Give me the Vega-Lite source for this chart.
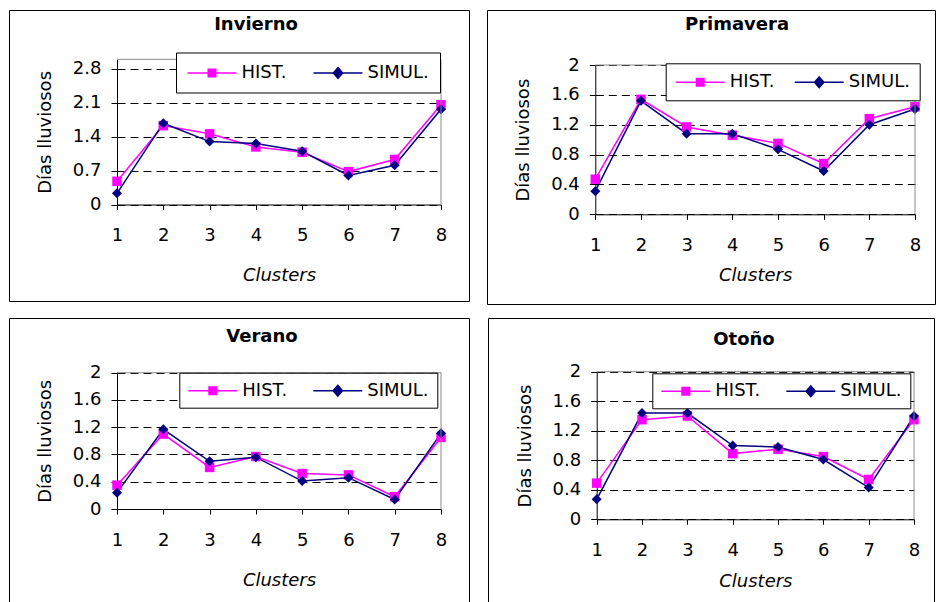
{
  "$schema": "https://vega.github.io/schema/vega-lite/v6.json",
  "padding": {"left": 8, "top": 9, "right": 0, "bottom": 0},
  "background": "white",
  "datasets": {
    "inv": [
      {"c": 1, "s": "HIST.", "v": 0.48}, {"c": 2, "s": "HIST.", "v": 1.63}, {"c": 3, "s": "HIST.", "v": 1.46}, {"c": 4, "s": "HIST.", "v": 1.19},
      {"c": 5, "s": "HIST.", "v": 1.08}, {"c": 6, "s": "HIST.", "v": 0.68}, {"c": 7, "s": "HIST.", "v": 0.93}, {"c": 8, "s": "HIST.", "v": 2.06},
      {"c": 1, "s": "SIMUL.", "v": 0.23}, {"c": 2, "s": "SIMUL.", "v": 1.68}, {"c": 3, "s": "SIMUL.", "v": 1.30}, {"c": 4, "s": "SIMUL.", "v": 1.26},
      {"c": 5, "s": "SIMUL.", "v": 1.10}, {"c": 6, "s": "SIMUL.", "v": 0.60}, {"c": 7, "s": "SIMUL.", "v": 0.81}, {"c": 8, "s": "SIMUL.", "v": 1.97}
    ],
    "pri": [
      {"c": 1, "s": "HIST.", "v": 0.47}, {"c": 2, "s": "HIST.", "v": 1.54}, {"c": 3, "s": "HIST.", "v": 1.17}, {"c": 4, "s": "HIST.", "v": 1.06},
      {"c": 5, "s": "HIST.", "v": 0.95}, {"c": 6, "s": "HIST.", "v": 0.68}, {"c": 7, "s": "HIST.", "v": 1.28}, {"c": 8, "s": "HIST.", "v": 1.44},
      {"c": 1, "s": "SIMUL.", "v": 0.31}, {"c": 2, "s": "SIMUL.", "v": 1.52}, {"c": 3, "s": "SIMUL.", "v": 1.08}, {"c": 4, "s": "SIMUL.", "v": 1.08},
      {"c": 5, "s": "SIMUL.", "v": 0.87}, {"c": 6, "s": "SIMUL.", "v": 0.58}, {"c": 7, "s": "SIMUL.", "v": 1.20}, {"c": 8, "s": "SIMUL.", "v": 1.41}
    ],
    "ver": [
      {"c": 1, "s": "HIST.", "v": 0.35}, {"c": 2, "s": "HIST.", "v": 1.10}, {"c": 3, "s": "HIST.", "v": 0.61}, {"c": 4, "s": "HIST.", "v": 0.77},
      {"c": 5, "s": "HIST.", "v": 0.52}, {"c": 6, "s": "HIST.", "v": 0.50}, {"c": 7, "s": "HIST.", "v": 0.18}, {"c": 8, "s": "HIST.", "v": 1.05},
      {"c": 1, "s": "SIMUL.", "v": 0.24}, {"c": 2, "s": "SIMUL.", "v": 1.17}, {"c": 3, "s": "SIMUL.", "v": 0.70}, {"c": 4, "s": "SIMUL.", "v": 0.76},
      {"c": 5, "s": "SIMUL.", "v": 0.41}, {"c": 6, "s": "SIMUL.", "v": 0.46}, {"c": 7, "s": "SIMUL.", "v": 0.14}, {"c": 8, "s": "SIMUL.", "v": 1.11}
    ],
    "oto": [
      {"c": 1, "s": "HIST.", "v": 0.49}, {"c": 2, "s": "HIST.", "v": 1.35}, {"c": 3, "s": "HIST.", "v": 1.40}, {"c": 4, "s": "HIST.", "v": 0.89},
      {"c": 5, "s": "HIST.", "v": 0.95}, {"c": 6, "s": "HIST.", "v": 0.85}, {"c": 7, "s": "HIST.", "v": 0.54}, {"c": 8, "s": "HIST.", "v": 1.35},
      {"c": 1, "s": "SIMUL.", "v": 0.27}, {"c": 2, "s": "SIMUL.", "v": 1.44}, {"c": 3, "s": "SIMUL.", "v": 1.44}, {"c": 4, "s": "SIMUL.", "v": 1.00},
      {"c": 5, "s": "SIMUL.", "v": 0.98}, {"c": 6, "s": "SIMUL.", "v": 0.81}, {"c": 7, "s": "SIMUL.", "v": 0.43}, {"c": 8, "s": "SIMUL.", "v": 1.40}
    ]
  },
  "spacing": 12,
  "resolve": {"scale": {"color": "independent"}, "legend": {"color": "independent"}},
  "vconcat": [
    {
      "spacing": 16,
      "resolve": {"scale": {"color": "independent"}, "legend": {"color": "independent"}},
      "hconcat": [
        {
          "width": 460, "height": 291,
          "title": {"text": "Invierno", "offset": -24, "dx": 17},
          "layer": [
            {
              "data": {"name": "inv"},
              "mark": {"type": "line", "strokeWidth": 1.5},
              "encoding": {
                "x": {"field": "c", "type": "quantitative", "scale": {"domain": [1, 8], "range": [108, 432], "nice": false, "zero": false},
                      "axis": {"title": "Clusters", "offset": -96.5, "values": [1, 2, 3, 4, 5, 6, 7, 8], "format": "d", "grid": false, "tickSize": 5, "labelPadding": 17, "titlePadding": 22, "labelFlush": false, "titleFontStyle": "italic"}},
                "y": {"field": "v", "type": "quantitative", "scale": {"domain": [0, 3], "range": [194.5, 49.3], "nice": false, "zero": false},
                      "axis": {"title": "Días lluviosos", "offset": -108, "values": [0, 0.7, 1.4, 2.1, 2.8], "format": "~g", "grid": true, "gridDash": [8, 5], "gridColor": "black", "gridOpacity": 1, "tickSize": 6, "labelPadding": 10, "titlePadding": 18}},
                "color": {"field": "s", "type": "nominal", "scale": {"domain": ["HIST.", "SIMUL."], "range": ["#FF00FF", "#000080"]},
                          "legend": {"title": null, "orient": "none", "legendX": 167, "legendY": 42.5, "padding": 10.5, "columnPadding": 24,
                                     "encoding": {"symbols": {"shape": {"condition": {"test": "datum.value === 'HIST.'", "value": "M-2.72,0H2.72M-0.42,-0.42H0.42V0.42H-0.42Z"}, "value": "M-2.72,0H2.72M0,-0.6L0.52,0L0,0.6L-0.52,0Z"},
                                                              "fill": {"condition": {"test": "datum.value === 'HIST.'", "value": "#FF00FF"}, "value": "#000080"}}}}}
              }
            },
            {
              "data": {"name": "inv"},
              "transform": [{"filter": "datum.s === 'HIST.'"}],
              "mark": {"type": "point", "shape": "square", "filled": true, "size": 90, "color": "#FF00FF", "opacity": 1},
              "encoding": {
                "x": {"field": "c", "type": "quantitative", "scale": {"domain": [1, 8], "range": [108, 432], "nice": false, "zero": false}},
                "y": {"field": "v", "type": "quantitative", "scale": {"domain": [0, 3], "range": [194.5, 49.3], "nice": false, "zero": false}}
              }
            },
            {
              "data": {"name": "inv"},
              "transform": [{"filter": "datum.s === 'SIMUL.'"}],
              "mark": {"type": "point", "shape": "diamond", "filled": true, "size": 100, "color": "#000080", "opacity": 1},
              "encoding": {
                "x": {"field": "c", "type": "quantitative", "scale": {"domain": [1, 8], "range": [108, 432], "nice": false, "zero": false}},
                "y": {"field": "v", "type": "quantitative", "scale": {"domain": [0, 3], "range": [194.5, 49.3], "nice": false, "zero": false}}
              }
            },
            {
              "data": {"values": [{}]},
              "mark": {"type": "rule", "color": "#8c8c8c", "strokeWidth": 1},
              "encoding": {
                "x": {"datum": 8, "type": "quantitative", "scale": {"domain": [1, 8], "range": [108, 432], "nice": false, "zero": false}},
                "y": {"datum": 0, "type": "quantitative", "scale": {"domain": [0, 3], "range": [194.5, 49.3], "nice": false, "zero": false}},
                "y2": {"datum": 3}
              }
            },
            {
              "data": {"values": [{}]},
              "mark": {"type": "rule", "color": "#8c8c8c", "strokeWidth": 1},
              "encoding": {
                "x": {"datum": 1, "type": "quantitative", "scale": {"domain": [1, 8], "range": [108, 432], "nice": false, "zero": false}},
                "x2": {"datum": 8},
                "y": {"datum": 3, "type": "quantitative", "scale": {"domain": [0, 3], "range": [194.5, 49.3], "nice": false, "zero": false}}
              }
            }
          ]
        },
        {
          "width": 448, "height": 294,
          "title": {"text": "Primavera", "offset": -24, "dx": 26},
          "layer": [
            {
              "data": {"name": "pri"},
              "mark": {"type": "line", "strokeWidth": 1.5},
              "encoding": {
                "x": {"field": "c", "type": "quantitative", "scale": {"domain": [1, 8], "range": [108.3, 428], "nice": false, "zero": false},
                      "axis": {"title": "Clusters", "offset": -89.7, "values": [1, 2, 3, 4, 5, 6, 7, 8], "format": "d", "grid": false, "tickSize": 5, "labelPadding": 17, "titlePadding": 12.5, "labelFlush": false, "titleFontStyle": "italic"}},
                "y": {"field": "v", "type": "quantitative", "scale": {"domain": [0, 2], "range": [204.3, 55], "nice": false, "zero": false},
                      "axis": {"title": "Días lluviosos", "offset": -108.3, "values": [0, 0.4, 0.8, 1.2, 1.6, 2], "format": "~g", "grid": true, "gridDash": [8, 5], "gridColor": "black", "gridOpacity": 1, "tickSize": 6, "labelPadding": 10, "titlePadding": 18}},
                "color": {"field": "s", "type": "nominal", "scale": {"domain": ["HIST.", "SIMUL."], "range": ["#FF00FF", "#000080"]},
                          "legend": {"title": null, "orient": "none", "legendX": 178.7, "legendY": 53.3, "padding": 9, "columnPadding": 17,
                                     "encoding": {"symbols": {"shape": {"condition": {"test": "datum.value === 'HIST.'", "value": "M-2.72,0H2.72M-0.42,-0.42H0.42V0.42H-0.42Z"}, "value": "M-2.72,0H2.72M0,-0.6L0.52,0L0,0.6L-0.52,0Z"},
                                                              "fill": {"condition": {"test": "datum.value === 'HIST.'", "value": "#FF00FF"}, "value": "#000080"}}}}}
              }
            },
            {
              "data": {"name": "pri"},
              "transform": [{"filter": "datum.s === 'HIST.'"}],
              "mark": {"type": "point", "shape": "square", "filled": true, "size": 90, "color": "#FF00FF", "opacity": 1},
              "encoding": {
                "x": {"field": "c", "type": "quantitative", "scale": {"domain": [1, 8], "range": [108.3, 428], "nice": false, "zero": false}},
                "y": {"field": "v", "type": "quantitative", "scale": {"domain": [0, 2], "range": [204.3, 55], "nice": false, "zero": false}}
              }
            },
            {
              "data": {"name": "pri"},
              "transform": [{"filter": "datum.s === 'SIMUL.'"}],
              "mark": {"type": "point", "shape": "diamond", "filled": true, "size": 100, "color": "#000080", "opacity": 1},
              "encoding": {
                "x": {"field": "c", "type": "quantitative", "scale": {"domain": [1, 8], "range": [108.3, 428], "nice": false, "zero": false}},
                "y": {"field": "v", "type": "quantitative", "scale": {"domain": [0, 2], "range": [204.3, 55], "nice": false, "zero": false}}
              }
            },
            {
              "data": {"values": [{}]},
              "mark": {"type": "rule", "color": "#8c8c8c", "strokeWidth": 1},
              "encoding": {
                "x": {"datum": 8, "type": "quantitative", "scale": {"domain": [1, 8], "range": [108.3, 428], "nice": false, "zero": false}},
                "y": {"datum": 0, "type": "quantitative", "scale": {"domain": [0, 2], "range": [204.3, 55], "nice": false, "zero": false}},
                "y2": {"datum": 2}
              }
            },
            {
              "data": {"values": [{}]},
              "mark": {"type": "rule", "color": "#8c8c8c", "strokeWidth": 1},
              "encoding": {
                "x": {"datum": 1, "type": "quantitative", "scale": {"domain": [1, 8], "range": [108.3, 428], "nice": false, "zero": false}},
                "x2": {"datum": 8},
                "y": {"datum": 2, "type": "quantitative", "scale": {"domain": [0, 2], "range": [204.3, 55], "nice": false, "zero": false}}
              }
            }
          ]
        }
      ]
    },
    {
      "spacing": 17,
      "resolve": {"scale": {"color": "independent"}, "legend": {"color": "independent"}},
      "hconcat": [
        {
          "width": 460, "height": 287,
          "title": {"text": "Verano", "offset": -28, "dx": 23},
          "layer": [
            {
              "data": {"name": "ver"},
              "mark": {"type": "line", "strokeWidth": 1.5},
              "encoding": {
                "x": {"field": "c", "type": "quantitative", "scale": {"domain": [1, 8], "range": [108, 432], "nice": false, "zero": false},
                      "axis": {"title": "Clusters", "offset": -96, "values": [1, 2, 3, 4, 5, 6, 7, 8], "format": "d", "grid": false, "tickSize": 5, "labelPadding": 17, "titlePadding": 22, "labelFlush": false, "titleFontStyle": "italic"}},
                "y": {"field": "v", "type": "quantitative", "scale": {"domain": [0, 2], "range": [191, 54.7], "nice": false, "zero": false},
                      "axis": {"title": "Días lluviosos", "offset": -108, "values": [0, 0.4, 0.8, 1.2, 1.6, 2], "format": "~g", "grid": true, "gridDash": [8, 5], "gridColor": "black", "gridOpacity": 1, "tickSize": 6, "labelPadding": 10, "titlePadding": 18}},
                "color": {"field": "s", "type": "nominal", "scale": {"domain": ["HIST.", "SIMUL."], "range": ["#FF00FF", "#000080"]},
                          "legend": {"title": null, "orient": "none", "legendX": 170.3, "legendY": 54.7, "padding": 8, "columnPadding": 23,
                                     "encoding": {"symbols": {"shape": {"condition": {"test": "datum.value === 'HIST.'", "value": "M-2.72,0H2.72M-0.42,-0.42H0.42V0.42H-0.42Z"}, "value": "M-2.72,0H2.72M0,-0.6L0.52,0L0,0.6L-0.52,0Z"},
                                                              "fill": {"condition": {"test": "datum.value === 'HIST.'", "value": "#FF00FF"}, "value": "#000080"}}}}}
              }
            },
            {
              "data": {"name": "ver"},
              "transform": [{"filter": "datum.s === 'HIST.'"}],
              "mark": {"type": "point", "shape": "square", "filled": true, "size": 90, "color": "#FF00FF", "opacity": 1},
              "encoding": {
                "x": {"field": "c", "type": "quantitative", "scale": {"domain": [1, 8], "range": [108, 432], "nice": false, "zero": false}},
                "y": {"field": "v", "type": "quantitative", "scale": {"domain": [0, 2], "range": [191, 54.7], "nice": false, "zero": false}}
              }
            },
            {
              "data": {"name": "ver"},
              "transform": [{"filter": "datum.s === 'SIMUL.'"}],
              "mark": {"type": "point", "shape": "diamond", "filled": true, "size": 100, "color": "#000080", "opacity": 1},
              "encoding": {
                "x": {"field": "c", "type": "quantitative", "scale": {"domain": [1, 8], "range": [108, 432], "nice": false, "zero": false}},
                "y": {"field": "v", "type": "quantitative", "scale": {"domain": [0, 2], "range": [191, 54.7], "nice": false, "zero": false}}
              }
            },
            {
              "data": {"values": [{}]},
              "mark": {"type": "rule", "color": "#8c8c8c", "strokeWidth": 1},
              "encoding": {
                "x": {"datum": 8, "type": "quantitative", "scale": {"domain": [1, 8], "range": [108, 432], "nice": false, "zero": false}},
                "y": {"datum": 0, "type": "quantitative", "scale": {"domain": [0, 2], "range": [191, 54.7], "nice": false, "zero": false}},
                "y2": {"datum": 2}
              }
            },
            {
              "data": {"values": [{}]},
              "mark": {"type": "rule", "color": "#8c8c8c", "strokeWidth": 1},
              "encoding": {
                "x": {"datum": 1, "type": "quantitative", "scale": {"domain": [1, 8], "range": [108, 432], "nice": false, "zero": false}},
                "x2": {"datum": 8},
                "y": {"datum": 2, "type": "quantitative", "scale": {"domain": [0, 2], "range": [191, 54.7], "nice": false, "zero": false}}
              }
            }
          ]
        },
        {
          "width": 446, "height": 287,
          "title": {"text": "Otoño", "offset": -31, "dx": 33},
          "layer": [
            {
              "data": {"name": "oto"},
              "mark": {"type": "line", "strokeWidth": 1.5},
              "encoding": {
                "x": {"field": "c", "type": "quantitative", "scale": {"domain": [1, 8], "range": [108.7, 426], "nice": false, "zero": false},
                      "axis": {"title": "Clusters", "offset": -85.7, "values": [1, 2, 3, 4, 5, 6, 7, 8], "format": "d", "grid": false, "tickSize": 5, "labelPadding": 17, "titlePadding": 13, "labelFlush": false, "titleFontStyle": "italic"}},
                "y": {"field": "v", "type": "quantitative", "scale": {"domain": [0, 2], "range": [201.3, 53.7], "nice": false, "zero": false},
                      "axis": {"title": "Días lluviosos", "offset": -108.7, "values": [0, 0.4, 0.8, 1.2, 1.6, 2], "format": "~g", "grid": true, "gridDash": [8, 5], "gridColor": "black", "gridOpacity": 1, "tickSize": 6, "labelPadding": 10, "titlePadding": 18}},
                "color": {"field": "s", "type": "nominal", "scale": {"domain": ["HIST.", "SIMUL."], "range": ["#FF00FF", "#000080"]},
                          "legend": {"title": null, "orient": "none", "legendX": 164.3, "legendY": 55.3, "padding": 8, "columnPadding": 23,
                                     "encoding": {"symbols": {"shape": {"condition": {"test": "datum.value === 'HIST.'", "value": "M-2.72,0H2.72M-0.42,-0.42H0.42V0.42H-0.42Z"}, "value": "M-2.72,0H2.72M0,-0.6L0.52,0L0,0.6L-0.52,0Z"},
                                                              "fill": {"condition": {"test": "datum.value === 'HIST.'", "value": "#FF00FF"}, "value": "#000080"}}}}}
              }
            },
            {
              "data": {"name": "oto"},
              "transform": [{"filter": "datum.s === 'HIST.'"}],
              "mark": {"type": "point", "shape": "square", "filled": true, "size": 90, "color": "#FF00FF", "opacity": 1},
              "encoding": {
                "x": {"field": "c", "type": "quantitative", "scale": {"domain": [1, 8], "range": [108.7, 426], "nice": false, "zero": false}},
                "y": {"field": "v", "type": "quantitative", "scale": {"domain": [0, 2], "range": [201.3, 53.7], "nice": false, "zero": false}}
              }
            },
            {
              "data": {"name": "oto"},
              "transform": [{"filter": "datum.s === 'SIMUL.'"}],
              "mark": {"type": "point", "shape": "diamond", "filled": true, "size": 100, "color": "#000080", "opacity": 1},
              "encoding": {
                "x": {"field": "c", "type": "quantitative", "scale": {"domain": [1, 8], "range": [108.7, 426], "nice": false, "zero": false}},
                "y": {"field": "v", "type": "quantitative", "scale": {"domain": [0, 2], "range": [201.3, 53.7], "nice": false, "zero": false}}
              }
            },
            {
              "data": {"values": [{}]},
              "mark": {"type": "rule", "color": "#8c8c8c", "strokeWidth": 1},
              "encoding": {
                "x": {"datum": 8, "type": "quantitative", "scale": {"domain": [1, 8], "range": [108.7, 426], "nice": false, "zero": false}},
                "y": {"datum": 0, "type": "quantitative", "scale": {"domain": [0, 2], "range": [201.3, 53.7], "nice": false, "zero": false}},
                "y2": {"datum": 2}
              }
            },
            {
              "data": {"values": [{}]},
              "mark": {"type": "rule", "color": "#8c8c8c", "strokeWidth": 1},
              "encoding": {
                "x": {"datum": 1, "type": "quantitative", "scale": {"domain": [1, 8], "range": [108.7, 426], "nice": false, "zero": false}},
                "x2": {"datum": 8},
                "y": {"datum": 2, "type": "quantitative", "scale": {"domain": [0, 2], "range": [201.3, 53.7], "nice": false, "zero": false}}
              }
            }
          ]
        }
      ]
    }
  ],
  "config": {
    "view": {"stroke": "black", "strokeWidth": 1},
    "font": "DejaVu Sans",
    "axis": {"labelFont": "DejaVu Sans", "labelFontSize": 18, "labelColor": "black", "titleFont": "DejaVu Sans", "titleFontSize": 18, "titleFontWeight": "normal", "titleColor": "black", "domainColor": "black", "tickColor": "black", "domainWidth": 1, "tickWidth": 1, "labelOverlap": false, "labelBound": false},
    "legend": {"labelFont": "DejaVu Sans", "labelFontSize": 18, "labelColor": "black", "strokeColor": "black", "fillColor": "white", "direction": "horizontal", "symbolSize": 324, "symbolOffset": 15.5, "labelOffset": 19.5, "symbolStrokeWidth": 1.5, "labelLimit": 0},
    "title": {"font": "DejaVu Sans", "fontSize": 18, "fontWeight": "bold", "color": "black", "anchor": "middle", "frame": "group"}
  }
}
